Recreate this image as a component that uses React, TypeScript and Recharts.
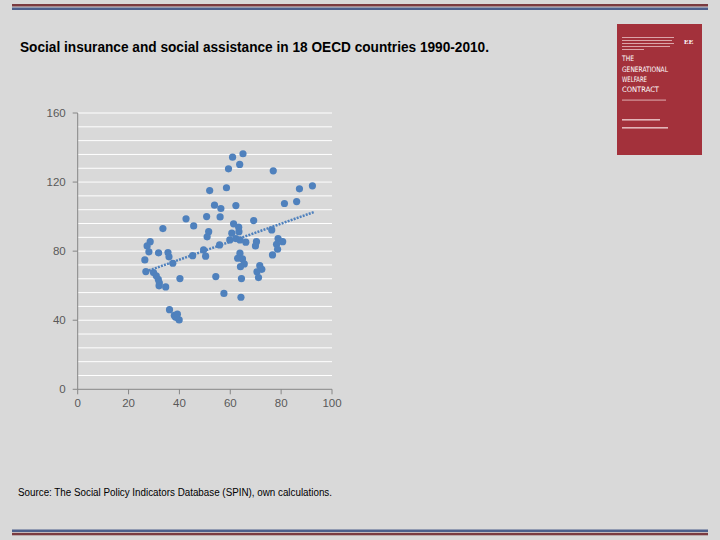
import React from "react";
import {
  ScatterChart,
  Scatter,
  XAxis,
  YAxis,
  ReferenceLine,
} from "recharts";

const titleText = "Social insurance and social assistance in 18 OECD countries 1990-2010.";
const sourceText = "Source: The Social Policy Indicators Database (SPIN), own calculations.";

const xTicks = [0, 20, 40, 60, 80, 100];
const yTicks = [0, 40, 80, 120, 160];
const gridValues = [8, 16, 24, 32, 40, 48, 56, 64, 72, 80, 88, 96, 104, 112, 120, 128, 136, 144, 152, 160];

const socialInsurance = [
  60.9, 65.0, 63.7, 59.3, 76.9, 51.9, 58.5, 87.2, 92.3, 81.3,
  86.1, 53.8, 56.3, 62.2, 42.6, 50.7, 56.0, 69.2, 45.6, 33.5,
  61.3, 63.3, 63.4, 60.6, 51.5, 50.9, 76.3, 59.8, 62.2, 63.8,
  66.1, 70.3, 69.9, 78.8, 80.6, 78.2, 78.6, 76.6, 55.8, 49.5,
  50.3, 45.2, 28.5, 27.3, 28.0, 31.8, 35.5, 35.9, 26.4, 37.4,
  63.8, 62.9, 64.8, 65.5, 64.0, 71.6, 72.4, 70.5, 71.1, 64.4,
  54.3, 40.2, 26.8, 29.8, 30.9, 31.7, 32.1, 32.0, 34.6, 57.5,
  64.2, 36.1, 38.0, 39.2, 39.9, 38.5,
];
const socialAssistance = [
  134.4, 136.4, 130.2, 127.7, 126.5, 115.1, 116.7, 116.1, 117.8, 107.6,
  108.7, 106.6, 104.7, 106.4, 98.7, 100.0, 99.8, 97.7, 94.6, 93.1,
  95.8, 93.9, 91.3, 90.4, 91.3, 88.3, 92.3, 86.5, 87.3, 86.5,
  85.2, 85.5, 83.0, 87.3, 85.5, 84.0, 81.1, 77.8, 83.6, 80.7,
  77.1, 77.4, 85.5, 83.0, 79.6, 79.0, 79.2, 76.7, 74.9, 73.0,
  78.8, 75.9, 75.5, 72.6, 71.0, 71.6, 69.5, 68.0, 64.7, 64.1,
  65.3, 64.1, 68.2, 67.6, 65.7, 63.6, 61.6, 59.9, 59.3, 55.5,
  53.3, 46.1, 42.8, 43.5, 40.2, 41.7,
];

const trendX = [26.8, 93.0];
const trendY = [68.2, 102.7];

const points = socialInsurance.map((x, i) => ({ x, y: socialAssistance[i] }));
const trend = trendX.map((x, i) => ({ x, y: trendY[i] }));

const BLUE = "#4f81bd";
const AXIS = "#868686";
const BG = "#d9d9d9";

const tickStyle = { fill: "#595959", fontSize: 11.5, fontFamily: "Liberation Sans, Arial, sans-serif" };

function Dot(props: any) {
  const { cx, cy } = props;
  if (cx == null || cy == null) return <g />;
  return <circle cx={cx} cy={cy} r={3.6} fill={BLUE} />;
}

function NoDot() {
  return <g />;
}

function Decorations() {
  const coverFont = "DejaVu Sans Condensed, Liberation Sans, sans-serif";
  return (
    <svg
      width={720}
      height={540}
      style={{ position: "absolute", left: 0, top: 0 }}
    >
      <rect x={12} y={4} width={696} height={2.5} fill="#7a3b40" />
      <rect x={12} y={7.5} width={696} height={2.5} fill="#4c5f8c" />
      <rect x={12} y={529.5} width={696} height={2.5} fill="#4c5f8c" />
      <rect x={12} y={532.8} width={696} height={2.5} fill="#7a3b40" />

      <text
        x={20}
        y={52}
        fontSize={14}
        fontWeight="bold"
        fontFamily="Liberation Sans, Arial, sans-serif"
        fill="#000"
        textLength={469}
        lengthAdjust="spacingAndGlyphs"
      >
        {titleText}
      </text>

      <text
        x={18}
        y={495.5}
        fontSize={10}
        fontFamily="Liberation Sans, Arial, sans-serif"
        fill="#000"
        textLength={314}
        lengthAdjust="spacingAndGlyphs"
      >
        {sourceText}
      </text>

      <g>
        <rect x={617} y={24} width={85} height={131} fill="#a3313b" />
        <rect x={622} y={37} width={52} height={1} fill="#e9c3c6" opacity={0.8} />
        <rect x={622} y={40} width={50} height={1} fill="#e9c3c6" opacity={0.8} />
        <rect x={622} y={43} width={52} height={1} fill="#e9c3c6" opacity={0.8} />
        <rect x={622} y={46} width={48} height={1} fill="#e9c3c6" opacity={0.8} />
        <rect x={622} y={49} width={22} height={1} fill="#e9c3c6" opacity={0.8} />
        <text x={684} y={44} fontSize={7} fontWeight="bold" fill="#fff" fontFamily="Liberation Serif, serif">EE</text>
        <text x={622} y={60.5} fontSize={7.5} fill="#fff" fontFamily={coverFont} textLength={12} lengthAdjust="spacingAndGlyphs">THE</text>
        <text x={622} y={72} fontSize={7.5} fill="#fff" fontFamily={coverFont} textLength={46} lengthAdjust="spacingAndGlyphs">GENERATIONAL</text>
        <text x={622} y={82} fontSize={7.5} fill="#fff" fontFamily={coverFont} textLength={25} lengthAdjust="spacingAndGlyphs">WELFARE</text>
        <text x={622} y={92} fontSize={7.5} fill="#fff" fontFamily={coverFont} textLength={37} lengthAdjust="spacingAndGlyphs">CONTRACT</text>
        <rect x={622} y={99.5} width={44} height={1.2} fill="#e9c3c6" opacity={0.7} />
        <rect x={622} y={119} width={38} height={1.6} fill="#f2d8da" opacity={0.8} />
        <rect x={622} y={127} width={46} height={1.6} fill="#f2d8da" opacity={0.8} />
      </g>
    </svg>
  );
}

export default function App() {
  return (
    <div
      style={{
        position: "absolute",
        left: 0,
        top: 0,
        width: 720,
        height: 540,
        background: BG,
        overflow: "hidden",
      }}
    >
      <Decorations />
      <div style={{ position: "absolute", left: 0, top: 0 }}>
        <ScatterChart
          width={720}
          height={540}
          margin={{ top: 113, left: 37.7, right: 388, bottom: 120.7 }}
        >
          {gridValues.map((v) => (
            <ReferenceLine key={v} y={v} stroke="#ffffff" strokeWidth={1} />
          ))}
          <XAxis
            type="number"
            dataKey="x"
            domain={[0, 100]}
            ticks={xTicks}
            height={30}
            axisLine={{ stroke: AXIS }}
            tickLine={{ stroke: AXIS }}
            tickSize={5}
            tickMargin={5}
            tick={tickStyle}
            allowDataOverflow
          />
          <YAxis
            type="number"
            dataKey="y"
            domain={[0, 160]}
            ticks={yTicks}
            width={40}
            axisLine={{ stroke: AXIS }}
            tickLine={{ stroke: AXIS }}
            tickSize={5}
            tickMargin={7}
            tick={tickStyle}
            allowDataOverflow
          />
          <Scatter
            data={points}
            fill={BLUE}
            shape={<Dot />}
            isAnimationActive={false}
          />
          <Scatter
            data={trend}
            line={{ stroke: BLUE, strokeWidth: 2.5, strokeDasharray: "2 1.2" }}
            shape={<NoDot />}
            isAnimationActive={false}
          />
        </ScatterChart>
      </div>
    </div>
  );
}
